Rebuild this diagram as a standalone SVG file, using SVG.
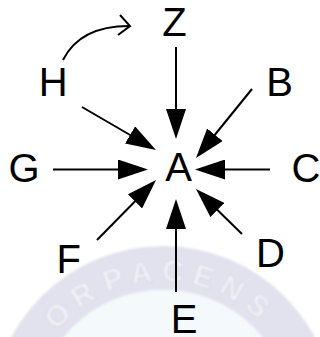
<svg xmlns="http://www.w3.org/2000/svg" width="320" height="337" viewBox="0 0 320 337">
<style>
.lbl{font-family:"Liberation Sans",Arial,sans-serif;font-size:40px;fill:#000;text-anchor:middle}
.edge{stroke:#000;stroke-width:2;fill:none}
.wm{font-family:"Liberation Sans",Arial,sans-serif;font-size:30px;font-weight:bold;fill:#f3f3f9;stroke:#d4d4e0;stroke-width:0.8}
</style>
<defs>
<marker id="ah" markerUnits="userSpaceOnUse" markerWidth="30" markerHeight="20" refX="10" refY="10" orient="auto" viewBox="0 0 30 20">
<path d="M0,0 L30,10 L0,20 Z" fill="#000"/>
</marker>
<path id="arc" d="M44.4,349.5 A137,137 0 0 1 281.6,349.5"/>
<filter id="soft" x="-10%" y="-10%" width="120%" height="120%"><feGaussianBlur stdDeviation="1.2"/></filter>
</defs>
<rect width="320" height="337" fill="#fff"/>
<g id="watermark" filter="url(#soft)">
<path d="M-9,418 A172,172 0 0 1 335,418 A172,172 0 0 1 -9,418 Z M35,418 A128,128 0 0 0 291,418 A128,128 0 0 0 35,418 Z" fill="#e2e2ee" fill-rule="evenodd"/>
<circle cx="163" cy="418" r="128" fill="#f4f9fb"/>
<text class="wm"><textPath href="#arc" startOffset="22" letter-spacing="8">OR</textPath></text>
<text class="wm"><textPath href="#arc" startOffset="86" letter-spacing="8">PACENS</textPath></text>
</g>
<g id="connectors">
<line class="edge" x1="176" y1="47" x2="176" y2="119" marker-end="url(#ah)"/>
<line class="edge" x1="82" y1="107" x2="138.7" y2="140" marker-end="url(#ah)"/>
<line class="edge" x1="252" y1="89" x2="208.6" y2="142.5" marker-end="url(#ah)"/>
<line class="edge" x1="53" y1="169.5" x2="128" y2="169.5" marker-end="url(#ah)"/>
<line class="edge" x1="270" y1="169.5" x2="215" y2="169.5" marker-end="url(#ah)"/>
<line class="edge" x1="97" y1="240" x2="142" y2="194.3" marker-end="url(#ah)"/>
<line class="edge" x1="176" y1="292" x2="176" y2="219" marker-end="url(#ah)"/>
<line class="edge" x1="242" y1="234" x2="210.3" y2="203" marker-end="url(#ah)"/>
<path class="edge" d="M63,60 C74,38 96,26 129,26"/>
<path class="edge" d="M120,15 L130,26 L118,35"/>
</g>
<g id="node-Z"><text class="lbl" x="174.5" y="36">Z</text></g>
<g id="node-H"><text class="lbl" x="53.3" y="96">H</text></g>
<g id="node-B"><text class="lbl" x="279.6" y="96">B</text></g>
<g id="node-G"><text class="lbl" x="24" y="181.5">G</text></g>
<g id="node-A"><text class="lbl" x="178.5" y="181">A</text></g>
<g id="node-C"><text class="lbl" x="306" y="181.5">C</text></g>
<g id="node-F"><text class="lbl" x="68.8" y="272.5">F</text></g>
<g id="node-D"><text class="lbl" x="270.5" y="266.5">D</text></g>
<g id="node-E"><text class="lbl" x="184" y="333">E</text></g>
</svg>
